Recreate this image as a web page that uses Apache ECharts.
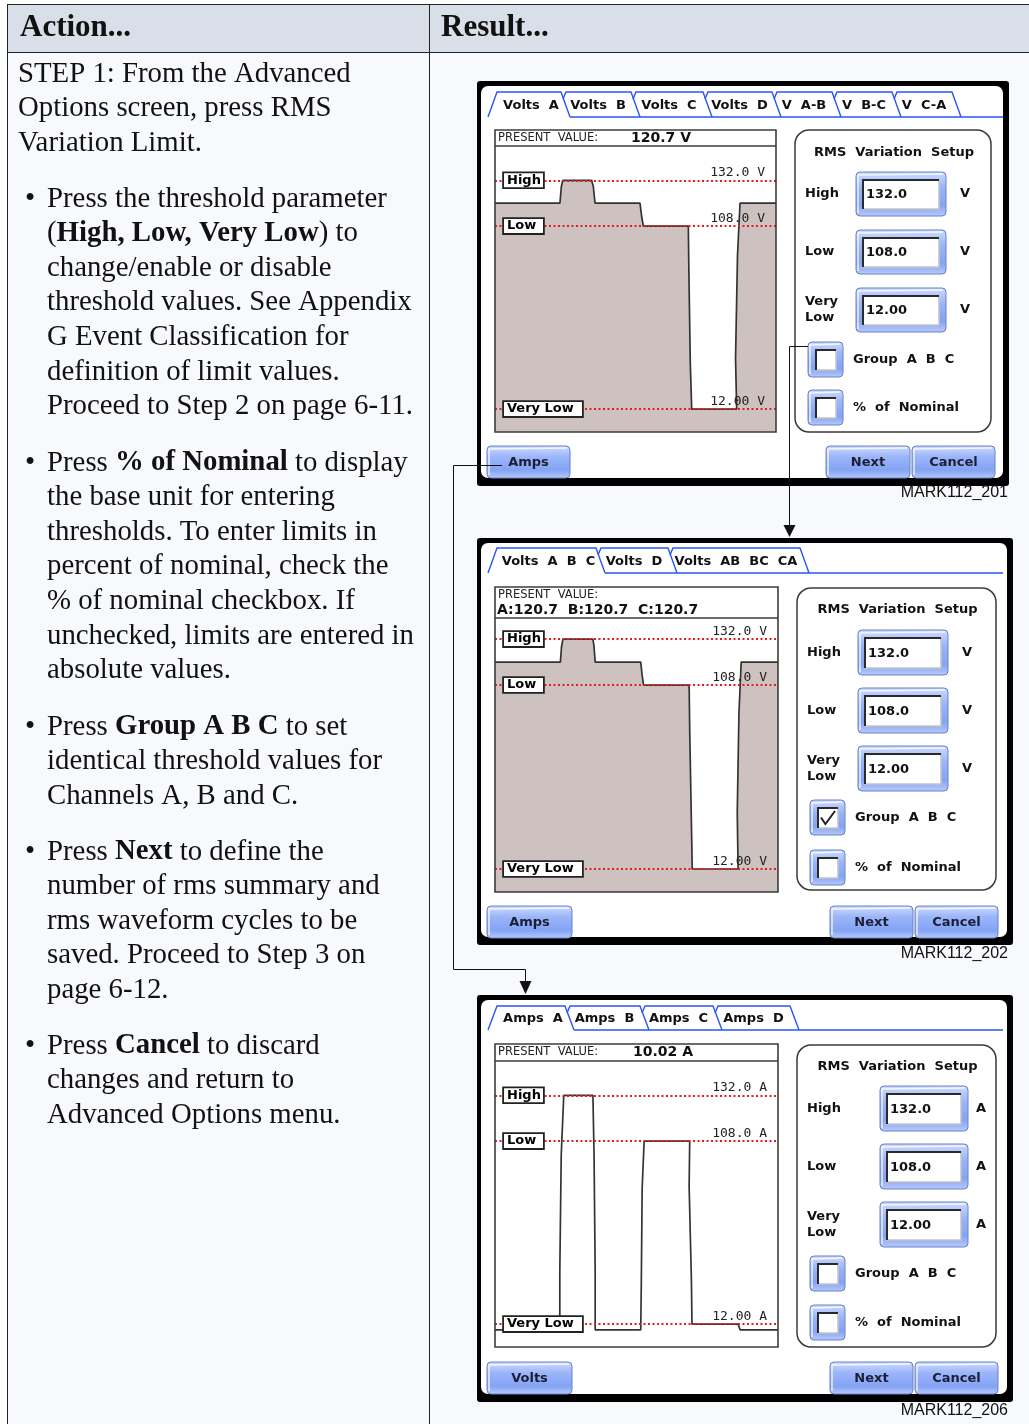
<!DOCTYPE html>
<html><head><meta charset="utf-8">
<script src="https://cdn.jsdelivr.net/npm/echarts@6/dist/echarts.min.js"></script>
<style>html,body{margin:0;padding:0;background:#fff}#c{width:1029px;height:1424px}</style>
</head><body><div id="c"></div>
<script>
// ================= DATA =================
const thresholdNames = ['High', 'Low', 'Very Low'];
const voltLimits = [132.0, 108.0, 12.00];
const ampLimits = [132.0, 108.0, 12.00];
const voltLimitText = ['132.0 V', '108.0 V', '12.00 V'];
const ampLimitText = ['132.0 A', '108.0 A', '12.00 A'];
const limitFieldText = ['132.0', '108.0', '12.00'];
const yAxisMax = [150, 143, 150];

// Screen 1 (Volts A) rms trend: position across the plot (0-100) and value
const voltsAPos = [0, 23.1, 23.6, 24.1, 34.4, 35.0, 35.6, 51.6, 52.2, 52.8, 68.8, 69.0, 69.5, 70.0, 86.0, 85.6, 86.3, 87.2, 100];
const voltsAVal = [120, 120, 128.6, 132, 132, 128.6, 120, 120, 112.9, 108, 108, 83.9, 36.2, 12, 12, 38.6, 92.8, 120, 120];
// Screen 2 (Volts A B C)
const voltsABCPos = [0, 23.1, 23.5, 24.0, 34.6, 35.0, 35.4, 51.5, 52.0, 52.5, 68.6, 68.8, 69.4, 69.7, 85.9, 85.6, 86.2, 87.0, 100];
const voltsABCVal = [120, 120, 128, 132, 132, 128, 120, 120, 113, 108, 108, 84.5, 36.5, 12, 12, 41.2, 93.4, 120, 120];
// Screen 3 (Amps A)
const ampsAPos = [0, 22.9, 22.9, 23.4, 24.3, 34.6, 35.0, 35.4, 35.4, 51.5, 51.7, 52.0, 52.7, 68.8, 68.6, 69.4, 69.6, 85.9, 86.6, 100];
const ampsAVal = [9, 9, 39.5, 100.7, 132, 132, 100.7, 39.5, 9, 9, 33.4, 83.2, 108, 108, 84, 35, 12, 12, 9, 9];

const presentValues = ['120.7 V', 'A:120.7  B:120.7  C:120.7', '10.02 A'];
const tabs1 = ['Volts A', 'Volts B', 'Volts C', 'Volts D', 'V A-B', 'V B-C', 'V C-A'];
const tabs2 = ['Volts A B C', 'Volts D', 'Volts AB BC CA'];
const tabs3 = ['Amps A', 'Amps B', 'Amps C', 'Amps D'];
const captions = ['MARK112_201', 'MARK112_202', 'MARK112_206'];
const leftButtons = ['Amps', 'Amps', 'Volts'];
const groupChecked = [false, true, false];

const headerTexts = ['Action...', 'Result...'];
const paragraphs = [
  ['STEP 1: From the Advanced', 'Options screen, press RMS', 'Variation Limit.'],
  ['Press the threshold parameter', '({b|High, Low, Very Low}) to', 'change/enable or disable', 'threshold values. See Appendix', 'G Event Classification for', 'definition of limit values.', 'Proceed to Step 2 on page 6-11.'],
  ['Press {b|% of Nominal} to display', 'the base unit for entering', 'thresholds. To enter limits in', 'percent of nominal, check the', '% of nominal checkbox. If', 'unchecked, limits are entered in', 'absolute values.'],
  ['Press {b|Group A B C} to set', 'identical threshold values for', 'Channels A, B and C.'],
  ['Press {b|Next} to define the', 'number of rms summary and', 'rms waveform cycles to be', 'saved. Proceed to Step 3 on', 'page 6-12.'],
  ['Press {b|Cancel} to discard', 'changes and return to', 'Advanced Options menu.']
];

// ================= DRAWING =================
const G = [];
function R(x, y, w, h, style, z, r) { G.push({type: 'rect', silent: true, z: z, shape: {x: x, y: y, width: w, height: h, r: r || 0}, style: style}); }
function P(points, style, z) { G.push({type: 'polyline', silent: true, z: z, shape: {points: points}, style: Object.assign({fill: null}, style)}); }
function PG(points, style, z) { G.push({type: 'polygon', silent: true, z: z, shape: {points: points}, style: style}); }
function T(x, y, t, font, opts, z) { G.push({type: 'text', silent: true, z: z, x: x, y: y, style: Object.assign({text: t, font: font, fill: '#111', textAlign: 'left', textVerticalAlign: 'middle'}, opts || {})}); }

const UI = '"DejaVu Sans"';
const B13 = 'bold 13px ' + UI;
const SERIF = '"Liberation Serif", "Times New Roman", serif';
const sp2 = s => s.replace(/ /g, '  ');

// table
R(0, 0, 1029, 1424, {fill: '#ffffff'}, 0);
R(7, 4, 1022, 48, {fill: '#d8dfe9'}, 0);
R(7, 52, 1022, 1372, {fill: '#f8f9fc'}, 0);
P([[7, 4.5], [1029, 4.5]], {stroke: '#222', lineWidth: 1}, 1);
P([[7, 52.5], [1029, 52.5]], {stroke: '#222', lineWidth: 1}, 1);
P([[7.5, 4], [7.5, 1424]], {stroke: '#222', lineWidth: 1}, 1);
P([[429.5, 4], [429.5, 1424]], {stroke: '#222', lineWidth: 1}, 1);
T(20, 28, headerTexts[0], 'bold 31px ' + SERIF, {fill: '#111'}, 1);
T(441, 28, headerTexts[1], 'bold 31px ' + SERIF, {fill: '#111'}, 1);

const paraY = [74, 199, 463, 727, 852, 1046];
const LH = 34.6;
paragraphs.forEach((lines, pi) => {
  if (pi > 0) T(25, paraY[pi], '\u2022', '29px ' + SERIF, {}, 1);
  lines.forEach((ln, k) => {
    G.push({type: 'text', silent: true, z: 1, x: pi === 0 ? 18 : 47, y: paraY[pi] + k * LH,
      style: {text: ln, fontFamily: SERIF, fontSize: 28.8, fill: '#111', textVerticalAlign: 'middle',
        rich: {b: {fontFamily: SERIF, fontSize: 28.8, fontWeight: 'bold', fill: '#111'}}}});
  });
});

const BLUE = {type: 'linear', x: 0, y: 0, x2: 0, y2: 1, colorStops: [
  {offset: 0, color: '#cfdcff'}, {offset: 0.35, color: '#9bb5f9'}, {offset: 0.75, color: '#84a3f4'}, {offset: 1, color: '#b9cbfc'}]};
function btn(x, y, w, h, label, z) {
  R(x, y, w, h, {fill: BLUE, stroke: '#6a82c2', lineWidth: 1}, z, 4);
  P([[x + 2, y + h - 3], [x + 2, y + 3], [x + w - 3, y + 2]], {stroke: 'rgba(255,255,255,0.8)', lineWidth: 1.5}, z);
  if (label) T(x + w / 2, y + h / 2 + 1, label, B13, {textAlign: 'center', fill: '#1a1f33'}, z);
}
function field(x, y, w, h, val, z) {
  btn(x, y, w, h, null, z);
  const ix = x + 6, iy = y + 7, iw = w - 13, ih = h - 14;
  R(ix, iy, iw, ih, {fill: '#fff'}, z);
  P([[ix + iw, iy], [ix + iw, iy + ih], [ix, iy + ih]], {stroke: '#c4c4c4', lineWidth: 1.5}, z);
  P([[ix + 1, iy + ih], [ix + 1, iy + 1], [ix + iw, iy + 1]], {stroke: '#2a2a2a', lineWidth: 2}, z);
  T(ix + 4, iy + ih / 2 + 1, val, B13, {}, z);
}
function checkbox(x, y, s, checked, z) {
  btn(x, y, s, s, null, z);
  const ix = x + 7, iy = y + 7, iw = s - 14;
  R(ix, iy, iw, iw, {fill: '#fff'}, z);
  P([[ix + iw, iy], [ix + iw, iy + iw], [ix, iy + iw]], {stroke: '#c4c4c4', lineWidth: 1.5}, z);
  P([[ix + 1, iy + iw], [ix + 1, iy + 1], [ix + iw, iy + 1]], {stroke: '#2a2a2a', lineWidth: 2}, z);
  if (checked) P([[ix + 4, iy + iw * 0.5], [ix + iw * 0.4, iy + iw - 4], [ix + iw - 3, iy + 4]], {stroke: '#222', lineWidth: 2}, z);
}
function tabs(labels, seps, top, base, right, z) {
  const sl = 9, st = {stroke: '#2a55f5', lineWidth: 1.4};
  for (let i = 0; i < labels.length; i++) {
    const a = seps[i], b = seps[i + 1];
    const pts = i === 0 ? [[a - sl, base], [a, top]] : [[a + 2, top + 7], [a + 5, top]];
    pts.push([b, top], [b + sl, base]);
    P(pts, st, z);
    T((a + b) / 2 + 2, (top + base) / 2 + 1, sp2(labels[i]), B13, {textAlign: 'center'}, z);
  }
  P([[seps[1] + sl, base], [right, base]], st, z);
}

const layouts = [
  {fx: 477, fy: 81, fw: 532, fh: 405, capY: 493, tabs: tabs1,
   tabSeps: [497, 561, 631, 703, 772, 832, 892, 952], tabTop: 92, tabBase: 117,
   bx: 495, by: 130, bw: 281, bh: 302, hh: 16, pvY: 138, valX: 631, valY: 138,
   px: 795, py: 130, pw: 196, ph: 302, titleY: 153,
   labelX: 805, fieldX: 856, fieldW: 90, fieldH: 44, fieldY: [172, 230, 288], unitX: 965,
   checkX: 808, checkY: [342, 390], checkLabelX: 853,
   btnY: 446, btnH: 32, leftBtn: [487, 83], nextBtn: [826, 84], cancelBtn: [912, 83]},
  {fx: 477, fy: 538, fw: 536, fh: 407, capY: 954, tabs: tabs2,
   tabSeps: [497, 596, 668, 800], tabTop: 548, tabBase: 573,
   bx: 495, by: 587, bw: 283, bh: 305, hh: 31, pvY: 595, valX: 497, valY: 610,
   px: 797, py: 588, pw: 199, ph: 302, titleY: 610,
   labelX: 807, fieldX: 858, fieldW: 90, fieldH: 45, fieldY: [630, 688, 746], unitX: 967,
   checkX: 810, checkY: [800, 850], checkLabelX: 855,
   btnY: 906, btnH: 32, leftBtn: [487, 85], nextBtn: [830, 83], cancelBtn: [915, 83]},
  {fx: 477, fy: 995, fw: 536, fh: 407, capY: 1411, tabs: tabs3,
   tabSeps: [497, 565, 640, 713, 790], tabTop: 1006, tabBase: 1030,
   bx: 495, by: 1044, bw: 283, bh: 303, hh: 17, pvY: 1052, valX: 633, valY: 1052,
   px: 797, py: 1045, pw: 199, ph: 302, titleY: 1067,
   labelX: 807, fieldX: 880, fieldW: 88, fieldH: 45, fieldY: [1086, 1144, 1202], unitX: 981,
   checkX: 810, checkY: [1256, 1305], checkLabelX: 855,
   btnY: 1362, btnH: 32, leftBtn: [487, 85], nextBtn: [830, 83], cancelBtn: [915, 83]}
];
const units = ['V', 'V', 'A'];

layouts.forEach((L, i) => {
  // frame
  R(L.fx, L.fy, L.fw, L.fh, {fill: '#000'}, 1, 3);
  R(L.fx + 4, L.fy + 5, L.fw - 10, L.fh - 13, {fill: '#fff'}, 1, 7);
  T(1008, L.capY, captions[i], '16px "Liberation Sans", Arial, sans-serif', {textAlign: 'right', fill: '#111'}, 1);
  tabs(L.tabs, L.tabSeps, L.tabTop, L.tabBase, 1003, 3);
  // chart box
  R(L.bx, L.by, L.bw, L.bh, {fill: '#fff'}, 1);
  R(L.bx, L.by, L.bw, L.bh, {fill: null, stroke: '#3c3c3c', lineWidth: 1.6}, 10);
  P([[L.bx, L.by + L.hh], [L.bx + L.bw, L.by + L.hh]], {stroke: '#3c3c3c', lineWidth: 1.6}, 10);
  T(L.bx + 3, L.pvY, 'PRESENT  VALUE:', '11.5px ' + UI, {fill: '#222'}, 10);
  T(L.valX, L.valY, presentValues[i], 'bold 14px ' + UI, {}, 10);
  // right panel
  R(L.px, L.py, L.pw, L.ph, {fill: '#fff', stroke: '#3a3a3a', lineWidth: 1.5}, 2, 14);
  T(L.px + L.pw / 2 + 1, L.titleY, sp2('RMS Variation Setup'), B13, {textAlign: 'center'}, 3);
  L.fieldY.forEach((fy, k) => {
    const cy = fy + L.fieldH / 2;
    if (k < 2) T(L.labelX, cy, thresholdNames[k], B13, {}, 3);
    else { T(L.labelX, cy - 8, 'Very', B13, {}, 3); T(L.labelX, cy + 8, 'Low', B13, {}, 3); }
    field(L.fieldX, fy, L.fieldW, L.fieldH, limitFieldText[k], 3);
    T(L.unitX, cy, units[i], B13, {textAlign: 'center'}, 3);
  });
  checkbox(L.checkX, L.checkY[0], 35, groupChecked[i], 3);
  T(L.checkLabelX, L.checkY[0] + 18, sp2('Group A B C'), B13, {}, 3);
  checkbox(L.checkX, L.checkY[1], 35, false, 3);
  T(L.checkLabelX, L.checkY[1] + 18, sp2('% of Nominal'), B13, {}, 3);
  btn(L.leftBtn[0], L.btnY, L.leftBtn[1], L.btnH, leftButtons[i], 3);
  btn(L.nextBtn[0], L.btnY, L.nextBtn[1], L.btnH, 'Next', 3);
  btn(L.cancelBtn[0], L.btnY, L.cancelBtn[1], L.btnH, 'Cancel', 3);
});

// connectors
P([[808, 346.5], [789.5, 346.5], [789.5, 526]], {stroke: '#111', lineWidth: 1}, 20);
PG([[783.5, 525], [795.5, 525], [789.5, 537]], {fill: '#111'}, 20);
P([[502, 465.5], [453.5, 465.5], [453.5, 969.5], [525.5, 969.5], [525.5, 982]], {stroke: '#111', lineWidth: 1}, 20);
PG([[519.5, 981], [531.5, 981], [525.5, 994]], {fill: '#111'}, 20);

// ================= CHART SERIES =================
const traces = [
  {pos: voltsAPos, val: voltsAVal, limits: voltLimits, text: voltLimitText, fill: true},
  {pos: voltsABCPos, val: voltsABCVal, limits: voltLimits, text: voltLimitText, fill: true},
  {pos: ampsAPos, val: ampsAVal, limits: ampLimits, text: ampLimitText, fill: false}
];
const grids = [], xAxes = [], yAxes = [], series = [];
layouts.forEach((L, i) => {
  grids.push({left: L.bx, top: L.by + L.hh, width: L.bw, height: L.bh - L.hh, containLabel: false, show: false});
  xAxes.push({gridIndex: i, type: 'value', min: 0, max: 100, show: false});
  yAxes.push({gridIndex: i, type: 'value', min: 0, max: yAxisMax[i], show: false});
  const tr = traces[i];
  const s = {
    type: 'line', xAxisIndex: i, yAxisIndex: i, z: 3, symbol: 'none', silent: true, animation: false,
    data: tr.pos.map((p, k) => [p, tr.val[k]]),
    lineStyle: {color: '#333333', width: 1.7, opacity: 1},
    markLine: {silent: true, animation: false, symbol: ['none', 'none'],
      lineStyle: {type: [2, 2.5], color: '#e51c1c', width: 1.8, opacity: 1},
      label: {position: 'insideEndTop', distance: [11, 1], fontFamily: '"DejaVu Sans Mono"', fontSize: 13, color: '#222'},
      data: tr.limits.map((v, k) => ({yAxis: v, label: {formatter: tr.text[k]}}))}
  };
  if (tr.fill) s.areaStyle = {color: '#cdc2c0', opacity: 1};
  series.push(s);
  series.push({
    type: 'scatter', xAxisIndex: i, yAxisIndex: i, z: 6, symbolSize: 0, silent: true, animation: false,
    itemStyle: {opacity: 1},
    data: thresholdNames.map((n, k) => ({value: [0, tr.limits[k]], name: n, label: {width: k === 2 ? 72 : 33}})),
    label: {show: true, position: 'right', distance: 9, formatter: '{b}', fontFamily: UI, fontWeight: 'bold',
      fontSize: 13, color: '#000', opacity: 1, backgroundColor: '#fff', borderColor: '#222', borderWidth: 1.8, padding: [1, 3, 0, 3]}
  });
});

const chart = echarts.init(document.getElementById('c'), null, {renderer: 'canvas', width: 1029, height: 1424});
chart.setOption({animation: false, grid: grids, xAxis: xAxes, yAxis: yAxes, series: series, graphic: {elements: G}});
</script></body></html>
